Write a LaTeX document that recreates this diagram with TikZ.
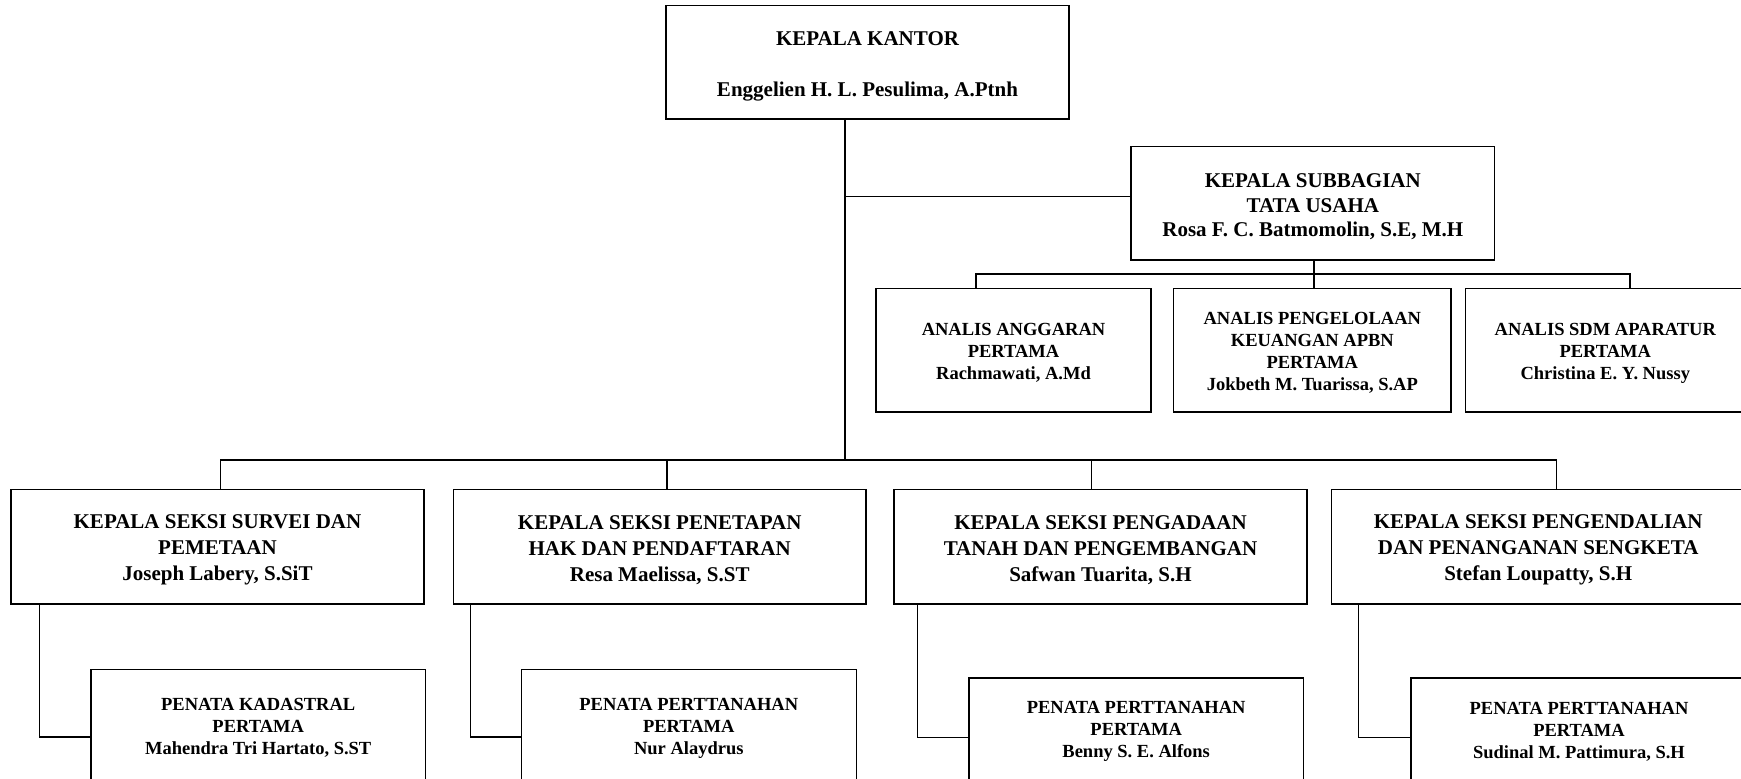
\documentclass[tikz,border=0pt]{standalone}
\usepackage{fontspec}
\setmainfont{Liberation Serif}
\newcommand{\mystrut}[1]{\rule{0pt}{#1}}
\begin{document}
\begin{tikzpicture}[x=1pt,y=-1pt,
  box/.style={draw,line width=1.6pt,rectangle,inner sep=0pt,align=center,font=\bfseries\fontsize{21}{26}\selectfont},
  sbox/.style={box,font=\bfseries\fontsize{18.5}{22}\selectfont},
  conn/.style={line width=1.6pt}]
\useasboundingbox (0,0) rectangle (1741,779);
\clip (0,0) rectangle (1741,779);
\fill[white] (0,0) rectangle (1741,779);
% nodes
\node[box,minimum width=403pt,minimum height=113.5pt] (kantor) at (867.5,62.3)
  {\mystrut{23pt}KEPALA KANTOR\\[25pt]Enggelien H. L. Pesulima, A.Ptnh};
\node[box,font=\bfseries\fontsize{21}{24.5}\selectfont,minimum width=363.5pt,minimum height=113.4pt] (subbag) at (1312.8,203.3)
  {\mystrut{21pt}KEPALA SUBBAGIAN\\TATA USAHA\\Rosa F. C. Batmomolin, S.E, M.H};
\node[sbox,minimum width=275pt,minimum height=123.3pt] (an1) at (1013.5,350.3)
  {\mystrut{18pt}ANALIS ANGGARAN\\PERTAMA\\Rachmawati, A.Md};
\node[sbox,minimum width=277.5pt,minimum height=123.3pt] (an2) at (1312.3,350.3)
  {\mystrut{18pt}ANALIS PENGELOLAAN\\KEUANGAN APBN\\PERTAMA\\Jokbeth M. Tuarissa, S.AP};
\node[sbox,minimum width=279.5pt,minimum height=123.3pt] (an3) at (1605.3,350.3)
  {\mystrut{18pt}ANALIS SDM APARATUR\\PERTAMA\\Christina E. Y. Nussy};
\node[box,minimum width=412.5pt,minimum height=114.5pt] (ks1) at (217.5,546.8)
  {\mystrut{20pt}KEPALA SEKSI SURVEI DAN\\PEMETAAN\\Joseph Labery, S.SiT};
\node[box,minimum width=412.5pt,minimum height=114.5pt] (ks2) at (659.7,546.8)
  {\mystrut{20pt}KEPALA SEKSI PENETAPAN\\HAK DAN PENDAFTARAN\\Resa Maelissa, S.ST};
\node[box,minimum width=413.5pt,minimum height=114.5pt] (ks3) at (1100.5,546.8)
  {\mystrut{20pt}KEPALA SEKSI PENGADAAN\\TANAH DAN PENGEMBANGAN\\Safwan Tuarita, S.H};
\node[box,minimum width=413.6pt,minimum height=114.5pt] (ks4) at (1538.2,546.8)
  {\mystrut{20pt}KEPALA SEKSI PENGENDALIAN\\DAN PENANGANAN SENGKETA\\Stefan Loupatty, S.H};
\node[sbox,minimum width=334.4pt,minimum height=112.7pt] (pn1) at (258.2,725.7)
  {\mystrut{17pt}PENATA KADASTRAL\\PERTAMA\\Mahendra Tri Hartato, S.ST};
\node[sbox,minimum width=335pt,minimum height=112.7pt] (pn2) at (688.8,725.7)
  {\mystrut{17pt}PENATA PERTTANAHAN\\PERTAMA\\Nur Alaydrus};
\node[sbox,minimum width=334.4pt,minimum height=103.3pt] (pn3) at (1136.2,729.4)
  {\mystrut{17pt}PENATA PERTTANAHAN\\PERTAMA\\Benny S. E. Alfons};
\node[sbox,minimum width=336pt,minimum height=103.3pt] (pn4) at (1579,729.4)
  {\mystrut{17pt}PENATA PERTTANAHAN\\PERTAMA\\Sudinal M. Pattimura, S.H};
% junction coordinates
\coordinate (j1) at (845,196.5);
\coordinate (bar) at (845,460);
\coordinate (sb) at (1314,274);
\coordinate (sbL) at (976,274);
\coordinate (sbR) at (1629.7,274);
\coordinate (bL) at (220.5,460);
\coordinate (b2) at (666.7,460);
\coordinate (b3) at (1091.4,460);
\coordinate (bR) at (1556.5,460);
\coordinate (e1) at (39.3,736.7);
\coordinate (e2) at (470.3,736.7);
\coordinate (e3) at (917.3,737.3);
\coordinate (e4) at (1358.3,737.3);
% connectors
\draw[conn] (kantor.south -| j1) -- (bar);
\draw[conn] (j1) -- (j1 -| subbag.west);
\draw[conn] (subbag.south -| sb) -- (sb |- an2.north);
\draw[conn] (sbL |- an1.north) -- (sbL) -- (sbR) -- (sbR |- an3.north);
\draw[conn] (bL |- ks1.north) -- (bL) -- (bR) -- (bR |- ks4.north);
\draw[conn] (b2) -- (b2 |- ks2.north);
\draw[conn] (b3) -- (b3 |- ks3.north);
\draw[conn] (ks1.south -| e1) -- (e1) -- (e1 -| pn1.west);
\draw[conn] (ks2.south -| e2) -- (e2) -- (e2 -| pn2.west);
\draw[conn] (ks3.south -| e3) -- (e3) -- (e3 -| pn3.west);
\draw[conn] (ks4.south -| e4) -- (e4) -- (e4 -| pn4.west);
\end{tikzpicture}
\end{document}
